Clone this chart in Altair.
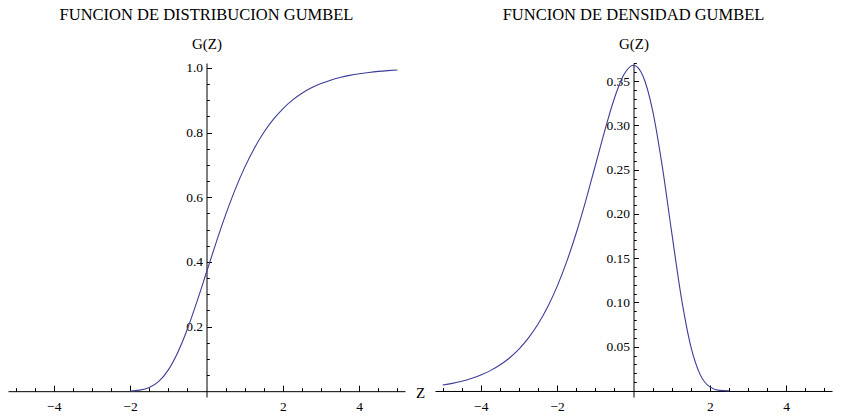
import altair as alt
import pandas as pd

# ---- data ----
z_cdf = [-2.0, -1.75, -1.5, -1.25, -1.0, -0.75, -0.5, -0.25, 0.0, 0.25, 0.5, 0.75,
         1.0, 1.25, 1.5, 1.75, 2.0, 2.25, 2.5, 2.75, 3.0, 3.25, 3.5, 3.75, 4.0,
         4.25, 4.5, 4.75, 5.0]
g_cdf = [0.0006, 0.0032, 0.0113, 0.0305, 0.0660, 0.1204, 0.1923, 0.2769, 0.3679,
         0.4589, 0.5452, 0.6235, 0.6922, 0.7509, 0.8000, 0.8405, 0.8734, 0.9000,
         0.9212, 0.9381, 0.9514, 0.9619, 0.9702, 0.9767, 0.9819, 0.9858, 0.9890,
         0.9914, 0.9933]

z_pdf = [-5.0, -4.75, -4.5, -4.25, -4.0, -3.75, -3.5, -3.25, -3.0, -2.75, -2.5,
         -2.25, -2.0, -1.75, -1.5, -1.25, -1.0, -0.75, -0.5, -0.25, 0.0, 0.25,
         0.5, 0.75, 1.0, 1.25, 1.5, 1.75, 2.0, 2.25, 2.5]
g_pdf = [0.0067, 0.0086, 0.0110, 0.0141, 0.0180, 0.0230, 0.0293, 0.0373, 0.0474,
         0.0600, 0.0756, 0.0949, 0.1182, 0.1461, 0.1785, 0.2151, 0.2547, 0.2945,
         0.3307, 0.3574, 0.3679, 0.3556, 0.3171, 0.2549, 0.1794, 0.1064, 0.0507,
         0.0182, 0.0046, 0.0007, 0.0001]

x_major = [-4, -2, 2, 4]
x_minor = [-5, -4.5, -3.5, -3, -2.5, -1.5, -1, -0.5, 0.5, 1, 1.5, 2.5, 3, 3.5, 4.5, 5]

cdf_y_major = [0.2, 0.4, 0.6, 0.8, 1.0]
cdf_y_minor = [0.05, 0.1, 0.15, 0.25, 0.3, 0.35, 0.45, 0.5, 0.55, 0.65, 0.7, 0.75,
               0.85, 0.9, 0.95]
pdf_y_major = [0.05, 0.10, 0.15, 0.20, 0.25, 0.30, 0.35]
pdf_y_minor = [0.01, 0.02, 0.03, 0.04, 0.06, 0.07, 0.08, 0.09, 0.11, 0.12, 0.13,
               0.14, 0.16, 0.17, 0.18, 0.19, 0.21, 0.22, 0.23, 0.24, 0.26, 0.27,
               0.28, 0.29, 0.31, 0.32, 0.33, 0.34, 0.36, 0.37]

titles = ["FUNCION DE DISTRIBUCION GUMBEL", "FUNCION DE DENSIDAD GUMBEL"]
y_title = "G(Z)"
x_title = "Z"

# ---- layout ----
W, H = 397, 334
XDOM = [-5.2, 5.2]
FONT = "Liberation Serif"
LINE = "#3d3d99"


def panel(z, g, ydom, y_major, y_minor, yfmt, title, xtitle):
    df = pd.DataFrame({"z": z, "g": g})
    x0 = W * (0 - XDOM[0]) / (XDOM[1] - XDOM[0])
    y0 = H * (ydom[1] - 0) / (ydom[1] - ydom[0])
    xs = alt.Scale(domain=XDOM, nice=False, zero=False)
    ys = alt.Scale(domain=ydom, nice=False, zero=False)
    common = dict(grid=False, domainColor="black", tickColor="black",
                  labelColor="black", labelFont=FONT, titleFont=FONT)

    xt_kwargs = dict(orient="top", offset=-y0, values=x_major, tickSize=6,
                     labels=False, domain=True, **common)
    if xtitle:
        xt_kwargs.update(title=xtitle, titleX=W + 15, titleY=1, titleAngle=0,
                         titleAlign="center", titleBaseline="middle",
                         titleFontSize=15, titleFontWeight="normal",
                         titleColor="black")
    else:
        xt_kwargs.update(title=None)

    main = alt.Chart(df).mark_line(color=LINE, strokeWidth=1.1,
                                   interpolate="monotone").encode(
        x=alt.X("z:Q", scale=xs, axis=alt.Axis(**xt_kwargs)),
        y=alt.Y("g:Q", scale=ys, axis=alt.Axis(
            orient="right", offset=x0 - W, values=y_major, tickSize=5,
            labels=False, domain=True, title=None, **common)),
    )
    minor = alt.Chart(df).mark_line(strokeOpacity=0).encode(
        x=alt.X("z:Q", scale=xs, axis=alt.Axis(
            orient="top", offset=-y0, values=x_minor, tickSize=3.5,
            labels=False, domain=False, title=None, **common)),
        y=alt.Y("g:Q", scale=ys, axis=alt.Axis(
            orient="right", offset=x0 - W, values=y_minor, tickSize=2.8,
            labels=False, domain=False, title=None, **common)),
    )
    labels = alt.Chart(df).mark_line(strokeOpacity=0).encode(
        x=alt.X("z:Q", scale=xs, axis=alt.Axis(
            orient="bottom", values=x_major, format="d", ticks=False,
            tickSize=0, labelPadding=2, labelFontSize=13.5, domain=False,
            title=None, **common)),
        y=alt.Y("g:Q", scale=ys, axis=alt.Axis(
            orient="left", offset=-x0, values=y_major, format=yfmt,
            ticks=False, tickSize=0, labelPadding=4, labelFontSize=13.5,
            domain=False, title=y_title, titleAngle=0, titleX=0, titleY=-15,
            titleAlign="center", titleBaseline="alphabetic", titleFontSize=15,
            titleFontWeight="normal", titleColor="black", **common)),
    )
    return alt.layer(main, minor, labels).resolve_axis(
        x="independent", y="independent"
    ).properties(
        width=W, height=H,
        title=alt.TitleParams(title, font=FONT, fontSize=16.5, fontWeight="normal",
                              color="black", anchor="middle", frame="group",
                              baseline="alphabetic", offset=0),
    )


left = panel(z_cdf, g_cdf, [-0.018, 1.015], cdf_y_major, cdf_y_minor, ".1f",
             titles[0], x_title)
right = panel(z_pdf, g_pdf, [-0.0068, 0.3705], pdf_y_major, pdf_y_minor, ".2f",
              titles[1], None)

chart = alt.hconcat(left, right, spacing=30, bounds="flush").properties(
    padding={"left": 8, "top": 6, "right": 5, "bottom": 5},
    background="white",
).configure_view(stroke=None)

chart.save("out.html", embed_options={"renderer": "svg", "actions": False})
